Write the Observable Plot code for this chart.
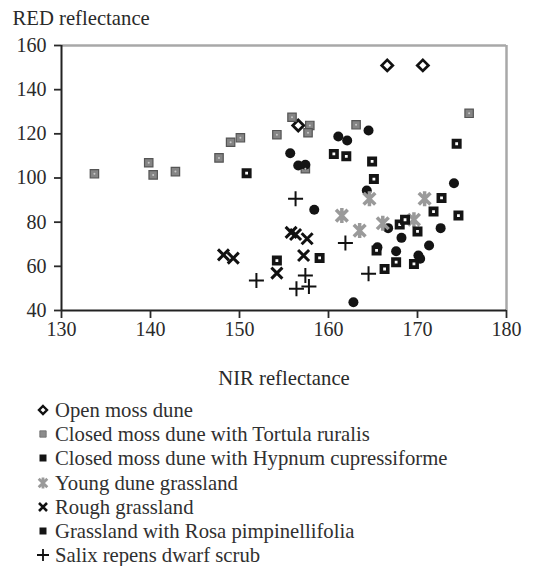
<!DOCTYPE html>
<html>
<head>
<meta charset="utf-8">
<script src="https://cdn.jsdelivr.net/npm/d3@7"></script>
<script src="https://cdn.jsdelivr.net/npm/@observablehq/plot@0.6"></script>
<style>
  html, body { margin: 0; padding: 0; background: #fff; overflow: hidden; }
  #chart { width: 546px; }
  .legend { font-family: "Liberation Serif", "DejaVu Serif", serif; font-size: 20.7px; color: #303030; padding-top: 3px; }
  .legend .row { display: flex; align-items: center; height: 24.2px; line-height: 24.2px; padding-left: 35px; white-space: nowrap; }
  .legend svg { width: 16px; height: 16px; margin-right: 4px; flex: none; }
</style>
</head>
<body>
<div id="chart"></div>
<script>
// ---- data (NIR reflectance = x, RED reflectance = y) ----
const seriesNames = [
  "Open moss dune",
  "Closed moss dune with Tortula ruralis",
  "Closed moss dune with Hypnum cupressiforme",
  "Young dune grassland",
  "Rough grassland",
  "Grassland with Rosa pimpinellifolia",
  "Salix repens dwarf scrub"
];
const openX = [166.6, 170.6, 156.6];
const openY = [151, 151, 123.8];
const tortulaX = [133.7, 139.8, 140.3, 142.8, 147.7, 149.0, 150.1, 154.2, 155.9, 157.9, 157.7, 157.4, 163.1, 175.8];
const tortulaY = [101.9, 106.9, 101.4, 102.9, 109.1, 116.2, 118.2, 119.6, 127.5, 123.8, 120.5, 104.2, 124.1, 129.3];
const hypnumX = [155.7, 156.6, 157.4, 161.1, 162.1, 164.5, 164.3, 174.1, 158.4, 162.8, 166.7, 168.2, 165.5, 167.6, 170.1, 170.3, 171.3, 172.6];
const hypnumY = [111.2, 105.7, 106.0, 118.8, 117.0, 121.5, 94.3, 97.6, 85.6, 43.7, 77.3, 72.9, 68.6, 66.8, 64.9, 63.4, 69.4, 77.3];
const youngX = [164.6, 161.5, 163.5, 166.1, 169.6, 170.8];
const youngY = [90.6, 83.0, 76.2, 79.5, 81.1, 90.6];
const roughX = [148.2, 149.3, 155.8, 156.3, 157.6, 157.2, 154.2];
const roughY = [65.2, 63.7, 75.4, 74.4, 72.5, 64.9, 56.9];
const rosaX = [150.8, 160.6, 162.0, 164.9, 165.1, 174.4, 159.0, 154.2, 168.0, 168.6, 170.0, 165.4, 166.3, 167.6, 169.6, 171.8, 172.7, 174.6];
const rosaY = [102.2, 110.9, 109.8, 107.5, 99.5, 115.5, 63.8, 62.6, 78.9, 81.1, 75.8, 67.2, 58.8, 61.9, 61.1, 84.8, 91.0, 83.0];
const salixX = [156.3, 151.9, 157.4, 156.4, 157.8, 161.9, 164.5];
const salixY = [90.6, 53.6, 55.8, 49.8, 50.9, 70.6, 56.6];

const xTicks = [130, 140, 150, 160, 170, 180];
const yTicks = [40, 60, 80, 100, 120, 140, 160];
const xTitle = "NIR reflectance";
const yTitle = "RED reflectance";

// ---- symbols ----
const R = size => Math.sqrt(size / Math.PI);
const diamondSym = { draw(c, s) { const r = R(s); c.moveTo(0, -r); c.lineTo(r, 0); c.lineTo(0, r); c.lineTo(-r, 0); c.closePath(); } };
const squareSym = { draw(c, s) { const r = R(s); c.rect(-r, -r, 2 * r, 2 * r); } };
const timesSym = { draw(c, s) { const r = R(s); c.moveTo(-r, -r); c.lineTo(r, r); c.moveTo(r, -r); c.lineTo(-r, r); } };
const plusSym = { draw(c, s) { const r = R(s); c.moveTo(-r, 0); c.lineTo(r, 0); c.moveTo(0, -r); c.lineTo(0, r); } };
const starSym = { draw(c, s) { const r = R(s); const d = r * 0.78; c.moveTo(0, -r); c.lineTo(0, r); c.moveTo(-d, -d); c.lineTo(d, d); c.moveTo(d, -d); c.lineTo(-d, d); } };

const zip = (xs, ys) => xs.map((x, i) => ({x, y: ys[i]}));
const open = zip(openX, openY), tortula = zip(tortulaX, tortulaY), hypnum = zip(hypnumX, hypnumY),
      young = zip(youngX, youngY), rough = zip(roughX, roughY), rosa = zip(rosaX, rosaY), salix = zip(salixX, salixY);

const styles = [
  {symbol: diamondSym, r: 5.5, fill: "#fff", stroke: "#111", strokeWidth: 2.8},
  {symbol: squareSym, r: 4.2, fill: "#858585", stroke: "#555", strokeWidth: 1.2},
  {symbol: "circle", r: 5, fill: "#141414", stroke: "none"},
  {symbol: starSym, r: 7.5, fill: "none", stroke: "#9a9a9a", strokeWidth: 3.5},
  {symbol: timesSym, r: 5.5, fill: "none", stroke: "#111", strokeWidth: 3},
  {symbol: squareSym, r: 3.2, fill: "#fff", stroke: "#141414", strokeWidth: 3.6},
  {symbol: plusSym, r: 7.5, fill: "none", stroke: "#111", strokeWidth: 2}
];
const datasets = [open, tortula, hypnum, young, rough, rosa, salix];

const plot = Plot.plot({
  width: 546,
  height: 395,
  marginLeft: 61,
  marginRight: 40,
  marginTop: 45,
  marginBottom: 85,
  style: {fontFamily: "Liberation Serif", fontSize: "20px", color: "#2a2a2a", background: "#fff"},
  x: {domain: [130, 180]},
  y: {domain: [40, 160]},
  marks: [
    Plot.ruleY([160], {stroke: "#a8a8a8", strokeWidth: 2.5}),
    Plot.ruleX([180], {stroke: "#a8a8a8", strokeWidth: 2.5}),
    Plot.ruleX([130], {stroke: "#222", strokeWidth: 2}),
    Plot.ruleY([40], {stroke: "#222", strokeWidth: 2}),
    Plot.axisX({ticks: xTicks, tickSize: 8, tickPadding: 3, strokeWidth: 1.8, tickFormat: d => String(d), label: null}),
    Plot.axisY({ticks: yTicks, tickSize: 7, tickPadding: 8, strokeWidth: 1.8, tickFormat: d => String(d), label: null}),
    Plot.text([xTitle], {frameAnchor: "bottom", lineAnchor: "middle", dy: 68, fontSize: 20.7}),
    Plot.text([yTitle], {frameAnchor: "top-left", lineAnchor: "middle", dx: -49, dy: -27, textAnchor: "start", fontSize: 20.7}),
    ...datasets.map((d, i) => Plot.dot(d, {x: "x", y: "y", ...styles[i]})),
    Plot.dot(tortula, {x: "x", y: "y", r: 1, fill: "#c9c9c9"})
  ]
});
document.getElementById("chart").appendChild(plot);

// ---- legend ----
const legend = document.createElement("div");
legend.className = "legend";
const legendStyles = [
  {sym: diamondSym, r: 4, fill: "#fff", stroke: "#111", sw: 2.4},
  {sym: squareSym, r: 3.2, fill: "#8c8c8c", stroke: "#6a6a6a", sw: 0.8},
  {sym: squareSym, r: 3.5, fill: "#141414", stroke: "none", sw: 0},
  {sym: starSym, r: 5.5, fill: "none", stroke: "#9a9a9a", sw: 2.8},
  {sym: timesSym, r: 4, fill: "none", stroke: "#111", sw: 2.6},
  {sym: squareSym, r: 3.5, fill: "#141414", stroke: "none", sw: 0},
  {sym: plusSym, r: 6, fill: "none", stroke: "#111", sw: 1.8}
];
seriesNames.forEach((name, i) => {
  const st = legendStyles[i];
  const row = document.createElement("div");
  row.className = "row";
  const path = d3.symbol(st.sym, Math.PI * st.r * st.r)();
  row.innerHTML = `<svg viewBox="-8 -8 16 16"><path d="${path}" fill="${st.fill}" stroke="${st.stroke}" stroke-width="${st.sw}"/></svg><span>${name}</span>`;
  legend.appendChild(row);
});
document.body.appendChild(legend);
</script>
</body>
</html>
